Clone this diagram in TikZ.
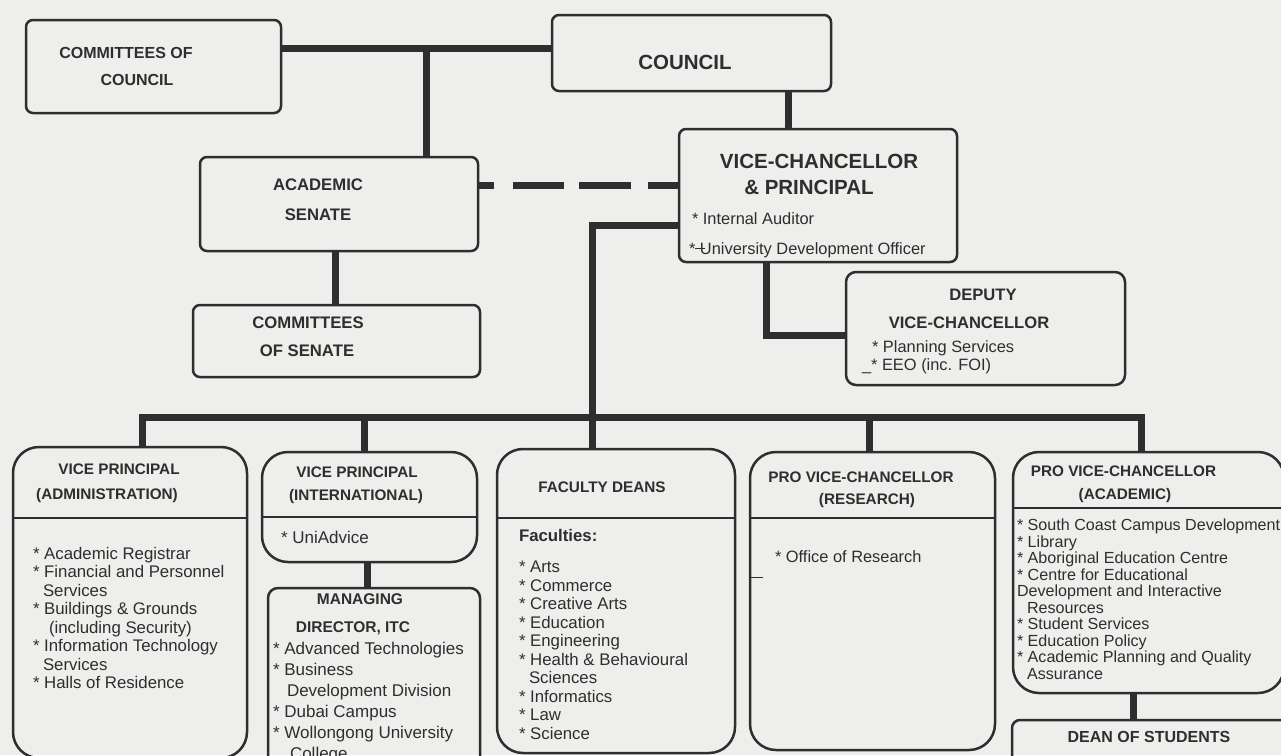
\documentclass[tikz,border=0pt]{standalone}
\usepackage{fontspec}
\setmainfont{Liberation Sans}
\definecolor{bg}{HTML}{EEEEEC}
\definecolor{ink}{HTML}{2E2E2E}
\tikzset{
  box/.style={draw=ink, line width=2.5pt, rectangle, rounded corners=#1, inner sep=0pt, outer sep=0pt},
  box/.default=7pt,
  conn/.style={draw=ink, line width=7pt, line join=miter},
  dashconn/.style={draw=ink, line width=7pt, dash pattern=on 16pt off 19pt on 51pt off 15pt on 52pt off 17pt on 40pt},
  divider/.style={draw=ink, line width=2.5pt},
  hd/.style={font=\bfseries\fontsize{#1}{#1}\selectfont, text=ink, inner sep=0pt, outer sep=0pt},
  hd/.default=15.3,
  lst/.style={font=\fontsize{16.8}{#1}\selectfont, text=ink, inner sep=0pt, outer sep=0pt, align=left, anchor=north west},
  lst/.default=18.5,
  one/.style={font=\fontsize{16.4}{18}\selectfont, text=ink, inner sep=0pt, outer sep=0pt, anchor=west},
  tick/.style={draw=ink, line width=1pt},
}
\begin{document}
\begin{tikzpicture}[x=1pt,y=-1pt]
\useasboundingbox (0,0) rectangle (1281,755);
\clip (0,0) rectangle (1281,755);
\fill[bg] (0,0) rectangle (1281,755);

% ---- boxes
\node[box, minimum width=255pt, minimum height=93pt] (coc) at (153.5,66.5) {};
\node[box, minimum width=279pt, minimum height=76pt] (council) at (691.5,53) {};
\node[box, minimum width=278pt, minimum height=94pt] (senate) at (339,204) {};
\node[box, minimum width=278pt, minimum height=133pt] (vc) at (818,195.5) {};
\node[box, minimum width=287pt, minimum height=72pt] (cos) at (336.5,341) {};
\node[box=10pt, minimum width=279pt, minimum height=113pt] (dvc) at (985.5,328.5) {};
\node[box=26pt, minimum width=234pt, minimum height=311pt] (vpa) at (130,602.5) {};
\node[box=26pt, minimum width=215pt, minimum height=110pt] (vpi) at (369.5,507) {};
\node[box=10pt, minimum width=212pt, minimum height=187pt] (md) at (374,681.5) {};
\node[box=26pt, minimum width=238pt, minimum height=304pt] (fd) at (616,601) {};
\node[box=26pt, minimum width=245pt, minimum height=298pt] (pvcr) at (872.5,601) {};
\node[box=26pt, minimum width=271pt, minimum height=241pt] (pvca) at (1148.5,572.5) {};
\node[box=8pt, minimum width=278pt, minimum height=80pt] (dean) at (1151,760) {};

% ---- dividers
\draw[divider] (vpa.west |- 0,518) -- (vpa.east |- 0,518);
\draw[divider] (vpi.west |- 0,517) -- (vpi.east |- 0,517);
\draw[divider] (fd.west |- 0,518) -- (fd.east |- 0,518);
\draw[divider] (pvcr.west |- 0,518) -- (pvcr.east |- 0,518);
\draw[divider] (pvca.west |- 0,508) -- (pvca.east |- 0,508);

% ---- connectors
\coordinate (j1) at (426,48);
\draw[conn] (j1 -| coc.east) -- (j1 -| council.west);
\draw[conn] (j1) -- (j1 |- senate.north);
\coordinate (j2) at (788,91);
\draw[conn] (j2 |- council.south) -- (j2 |- vc.north);
\coordinate (j3) at (500,185);
\draw[dashconn] (j3 -| senate.east) -- (j3 -| vc.west);
\coordinate (j6) at (335,300);
\draw[conn] (j6 |- senate.south) -- (j6 |- cos.north);
\coordinate (j4) at (592,225);
\draw[conn] (j4 -| vc.west) -- (j4) -- (j4 |- fd.north);
\coordinate (j5) at (766,335);
\draw[conn] (j5 |- vc.south) -- (j5) -- (j5 -| dvc.west);
\coordinate (bl) at (142,417);
\coordinate (br) at (1141,417);
\draw[conn] (bl |- vpa.north) -- (bl) -- (br) -- (br |- pvca.north);
\coordinate (b2) at (364,417);
\draw[conn] (b2) -- (b2 |- vpi.north);
\coordinate (b4) at (869,417);
\draw[conn] (b4) -- (b4 |- pvcr.north);
\coordinate (j7) at (367,570);
\draw[conn] (j7 |- vpi.south) -- (j7 |- md.north);
\coordinate (j8) at (1133,700);
\draw[conn] (j8 |- pvca.south) -- (j8 |- dean.north);
\coordinate (tk) at (763,577);
\draw[tick] (tk -| pvcr.west) -- (tk);

% ---- texts
\node[hd=16] (t1) at (126,53) {COMMITTEES OF};
\node[hd=16] (t2) at (137,80) {COUNCIL};
\node[hd=20.5] (t3) at (685,62) {COUNCIL};
\node[hd=16.7] (t4) at (318,185) {ACADEMIC};
\node[hd=16.7] (t5) at (318,215) {SENATE};
\node[hd=20.5] (t6) at (819,161) {VICE-CHANCELLOR};
\node[hd=20.5] (t7) at (809,187) {\& PRINCIPAL};
\node[one] (t8) at (692,219) {* Internal Auditor};
\node[one] (t9) at (689,250) {*\makebox[0pt][l]{\rule[0.3em]{0.6em}{0.07em}}\hspace{0.278em}University Development Officer};
\node[hd=16.7] (t10) at (308,323) {COMMITTEES};
\node[hd=16.7] (t11) at (307,351) {OF SENATE};
\node[hd=16.6] (t12) at (983,295) {DEPUTY};
\node[hd=16.6] (t13) at (969,323) {VICE-CHANCELLOR};
\node[one] (t14) at (872,348) {* Planning Services};
\node[one] (t15) at (862,366) {\_* EEO (inc. FOI)};

\node[hd] (t16) at (119,469) {VICE PRINCIPAL};
\node[hd] (t17) at (107,496) {(ADMINISTRATION)};
\node[lst] (t18) at (33,547) {* Academic Registrar\\
* Financial and Personnel\\
\hspace*{10pt}Services\\
* Buildings \& Grounds\\
\hspace*{16pt}(including Security)\\
* Information Technology\\
\hspace*{10pt}Services\\
* Halls of Residence};

\node[hd] (t19) at (357,472) {VICE PRINCIPAL};
\node[hd] (t20) at (356,497) {(INTERNATIONAL)};
\node[one, font=\fontsize{17}{18}\selectfont] (t21) at (281,537) {* UniAdvice};
\node[hd=15.5] (t22) at (360,599) {MANAGING};
\node[hd=15.5] (t23) at (353,628) {DIRECTOR, ITC};
\node[lst, font=\fontsize{17}{21}\selectfont] (t24) at (273,642) {* Advanced Technologies\\
* Business\\
\hspace*{14pt}Development Division\\
* Dubai Campus\\
* Wollongong University\\
\hspace*{17pt}College};

\node[hd] (t25) at (602,487) {FACULTY DEANS};
\node[one, font=\bfseries\fontsize{16.8}{18}\selectfont] (t26) at (519,535) {Faculties:};
\node[lst] (t27) at (519,561) {* Arts\\
* Commerce\\
* Creative Arts\\
* Education\\
* Engineering\\
* Health \& Behavioural\\
\hspace*{10pt}Sciences\\
* Informatics\\
* Law\\
* Science};

\node[hd] (t28) at (861,477) {PRO VICE-CHANCELLOR};
\node[hd] (t29) at (867,501) {(RESEARCH)};
\node[one] (t30) at (775,557) {* Office of Research};

\node[hd] (t31) at (1123.5,471) {PRO VICE-CHANCELLOR};
\node[hd] (t32) at (1125,496) {(ACADEMIC)};
\node[lst=16.5, font=\fontsize{16.1}{16.5}\selectfont] (t33) at (1017,519) {* South Coast Campus Development\\
* Library\\
* Aboriginal Education Centre\\
* Centre for Educational\\
Development and Interactive\\
\hspace*{10pt}Resources\\
* Student Services\\
* Education Policy\\
* Academic Planning and Quality\\
\hspace*{10pt}Assurance};

\node[hd=16] (t34) at (1149,737) {DEAN OF STUDENTS};
\end{tikzpicture}
\end{document}
